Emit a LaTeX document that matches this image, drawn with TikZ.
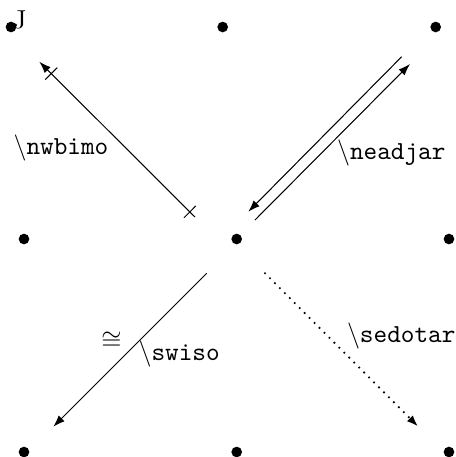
\documentclass[tikz,border=0pt]{standalone}
\usetikzlibrary{arrows.meta}
\begin{document}
\begin{tikzpicture}[x=0.385pt,y=-0.385pt,
  dot/.style={circle,fill,inner sep=0pt,minimum size=4.1pt},
  arr/.style={-{Latex[length=4.5pt,width=3.2pt]},line width=0.4pt},
  lbl/.style={anchor=base west,inner sep=0pt,font=\ttfamily},
  tick/.style={sloped,draw,inner sep=0pt,minimum width=0pt,minimum height=6.5pt,line width=0.4pt},
  dotline/.style={line width=0.9pt,line cap=round,dash pattern=on 0pt off 2.7pt}]
\useasboundingbox (0,0) rectangle (456,457);
% objects
\node[dot] (tl) at (11,27) {};
\node[dot] (tm) at (222.7,27) {};
\node[dot] (tr) at (435.7,27) {};
\node[dot] (ml) at (24,239) {};
\node[dot] (mc) at (236.7,239) {};
\node[dot] (mr) at (449,239) {};
\node[dot] (bl) at (24,452) {};
\node[dot] (bm) at (236.7,452) {};
\node[dot] (br) at (449,452) {};
\node[anchor=base west,inner sep=0pt] (J) at (12.5,28) {J};
% connector end points
\coordinate (nwA) at (195,217);
\coordinate (nwB) at (39.3,61.7);
\coordinate (neA) at (401.7,56.7);
\coordinate (neB) at (248.3,211.7);
\coordinate (neC) at (255,220);
\coordinate (neD) at (410,64);
\coordinate (swA) at (206.7,273.3);
\coordinate (swB) at (53.3,426.7);
\coordinate (seA) at (265,273.3);
\coordinate (seB) at (418.3,426.7);
% connectors
\draw[arr] (nwA) -- (nwB)
  node[tick,pos=0.033] (nwx1) {}
  node[tick,pos=0.923] (nwx2) {};
\draw[arr] (neA) -- (neB);
\draw[arr] (neC) -- (neD);
\draw[arr] (swA) -- (swB);
\draw[arr,dotline] (seA) -- (seB);
% labels
\node[lbl] (lnw) at (13,154) {$\backslash$nwbimo};
\node[lbl] (lne) at (336.5,159.5) {$\backslash$neadjar};
\node[lbl] (lsw) at (138,360) {$\backslash$swiso};
\node[lbl] (lse) at (346.5,342.5) {$\backslash$sedotar};
\node[inner sep=0pt] (iso) at (111.5,341) {$\cong$};
\end{tikzpicture}
\end{document}
